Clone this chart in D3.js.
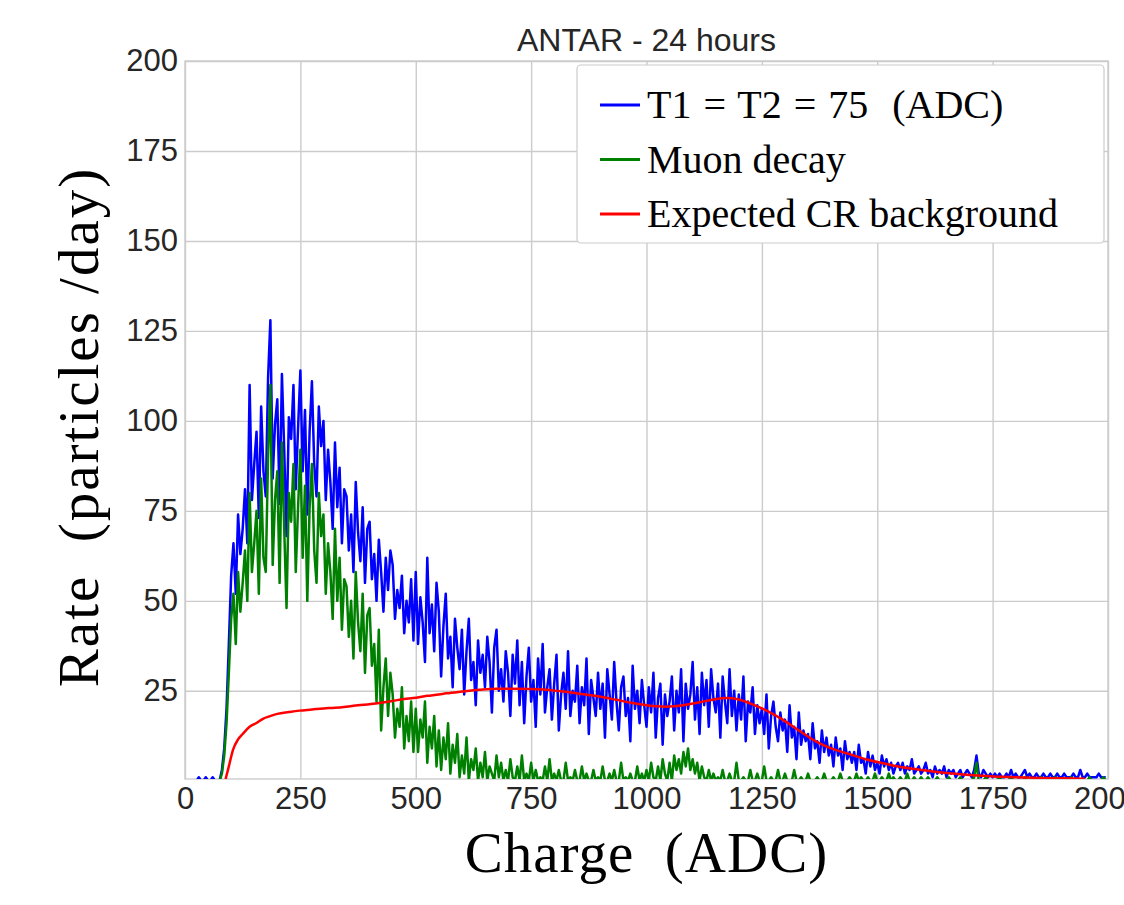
<!DOCTYPE html>
<html>
<head>
<meta charset="utf-8">
<script src="https://cdn.jsdelivr.net/npm/d3@7"></script>
<style>
    body { margin: 0; background: #fff; }
    svg { display: block; }
    .tick text { font-family: "Liberation Sans", Arial, sans-serif; fill: #262626; }
</style>
</head>
<body>
<svg id="chart" width="1124" height="905"></svg>
<script>
"use strict";

/** Histogram bins, 5 ADC wide, starting at 0. */
var binWidth = 5;

var blueRate = [
    0, 0, 0, 0, 0, 0, 1, 0, 0, 1, 0, 0, 1, 0, 0, 0, 3, 9, 20, 38,
    57, 66, 52, 74, 63, 70, 81, 66, 110, 78, 88, 97, 73, 104, 86, 79, 112, 128, 84, 99,
    106, 77, 113, 92, 68, 101, 95, 110, 81, 98, 114, 86, 103, 74, 97, 111, 88, 79, 104, 93,
    100, 78, 92, 83, 70, 94, 76, 87, 66, 81, 79, 64, 74, 58, 83, 69, 61, 76, 55, 70,
    72, 56, 63, 50, 67, 58, 47, 62, 53, 64, 60, 45, 53, 48, 57, 41, 50, 44, 56, 39,
    58, 38, 51, 44, 33, 62, 41, 49, 36, 55, 47, 29, 43, 52, 34, 40, 26, 45, 37, 31,
    42, 24, 36, 45, 28, 33, 21, 39, 30, 35, 26, 40, 33, 19, 37, 42, 25, 31, 22, 36,
    30, 18, 35, 27, 39, 21, 33, 16, 29, 37, 22, 28, 15, 34, 24, 38, 19, 26, 31, 17,
    27, 35, 14, 24, 30, 20, 36, 18, 25, 22, 32, 16, 26, 21, 34, 13, 28, 23, 18, 30,
    20, 27, 12, 31, 24, 17, 33, 22, 14, 26, 29, 18, 23, 11, 32, 20, 25, 16, 28, 21,
    15, 26, 19, 30, 12, 23, 27, 10, 24, 18, 22, 29, 14, 25, 19, 31, 11, 27, 20, 24,
    33, 17, 26, 13, 30, 21, 28, 15, 31, 23, 19, 27, 12, 29, 22, 16, 31, 18, 25, 14,
    24, 17, 29, 11, 22, 19, 26, 13, 21, 16, 20, 13, 24, 9, 18, 22, 15, 11, 19, 14,
    17, 8, 21, 12, 15, 6, 19, 10, 14, 11, 13, 6, 16, 9, 11, 5, 14, 8, 12, 7,
    10, 4, 12, 7, 9, 3, 11, 6, 8, 5, 8, 3, 10, 5, 6, 2, 8, 4, 7, 3,
    5, 2, 7, 4, 6, 3, 5, 2, 4, 5, 3, 5, 2, 4, 3, 6, 2, 3, 4, 2,
    3, 5, 2, 3, 1, 4, 2, 3, 2, 4, 1, 3, 2, 3, 1, 2, 3, 1, 2, 3,
    2, 1, 3, 7, 2, 1, 3, 2, 1, 2, 1, 2, 1, 2, 1, 1, 2, 1, 3, 1,
    2, 1, 1, 2, 3, 1, 2, 1, 1, 2, 1, 1, 2, 1, 1, 2, 1, 1, 2, 1,
    1, 2, 1, 1, 1, 2, 1, 1, 3, 1, 1, 2, 1, 1, 1, 1, 2, 1, 1, 1
];

var greenRate = [
    0, 0, 0, 0, 0, 0, 0, 0, 0, 0, 0, 0, 0, 0, 0, 0, 2, 7, 16, 30,
    45, 52, 38, 58, 47, 55, 64, 50, 80, 58, 66, 75, 52, 84, 62, 58, 90, 110, 60, 78,
    86, 55, 94, 70, 48, 80, 72, 88, 58, 76, 92, 62, 82, 50, 76, 88, 64, 55, 80, 68,
    74, 52, 66, 58, 45, 70, 50, 62, 42, 56, 54, 40, 50, 34, 58, 44, 36, 52, 30, 46,
    48, 32, 38, 22, 42, 14, 26, 34, 18, 30, 24, 12, 20, 15, 26, 9, 18, 11, 22, 8,
    20, 8, 17, 12, 22, 5, 15, 9, 18, 4, 14, 3, 12, 6, 16, 2, 10, 5, 13, 1,
    7, 2, 12, 0, 6, 3, 9, 0, 5, 1, 8, 0, 4, 2, 0, 7, 1, 5, 0, 3,
    0, 6, 1, 0, 4, 0, 7, 0, 2, 0, 5, 0, 3, 0, 1, 0, 4, 0, 6, 0,
    2, 0, 3, 0, 0, 5, 0, 1, 0, 3, 0, 0, 4, 0, 2, 0, 0, 3, 0, 1,
    0, 4, 0, 0, 2, 0, 3, 0, 0, 5, 0, 1, 0, 2, 0, 0, 4, 0, 2, 0,
    3, 0, 5, 1, 0, 4, 0, 6, 2, 0, 5, 0, 7, 3, 6, 2, 8, 4, 9, 3,
    6, 2, 5, 0, 4, 1, 0, 3, 0, 2, 0, 1, 0, 3, 0, 0, 2, 0, 0, 5,
    0, 0, 1, 0, 0, 3, 0, 0, 2, 0, 0, 4, 0, 0, 1, 0, 0, 3, 0, 0,
    2, 0, 0, 0, 3, 0, 0, 1, 0, 0, 2, 0, 0, 0, 1, 0, 0, 2, 0, 0,
    0, 1, 0, 0, 2, 0, 0, 0, 1, 0, 0, 2, 0, 1, 0, 0, 1, 0, 0, 2,
    0, 0, 1, 0, 0, 2, 0, 1, 0, 0, 1, 0, 0, 2, 0, 0, 1, 0, 0, 1,
    0, 0, 1, 0, 0, 0, 1, 0, 0, 0, 0, 1, 0, 0, 0, 0, 1, 0, 0, 0,
    0, 0, 1, 5, 0, 0, 0, 1, 0, 0, 0, 0, 0, 1, 0, 0, 0, 0, 1, 0,
    0, 0, 0, 0, 1, 0, 0, 0, 0, 0, 0, 1, 0, 0, 0, 0, 0, 1, 0, 0,
    0, 0, 0, 0, 1, 0, 0, 0, 0, 0, 0, 0, 1, 0, 0, 0, 0, 0, 1, 0
];

var redCharge = [88, 95, 104, 115, 125, 140, 154, 170, 183, 200, 225, 248, 275, 300, 325, 349,
    375, 400, 421, 450, 475, 494, 525, 550, 566, 600, 638, 675, 710, 750, 783, 820, 855, 898,
    935, 970, 1000, 1043, 1080, 1115, 1145, 1173, 1200, 1223, 1260, 1295, 1330, 1368, 1400,
    1440, 1475, 1512, 1548, 1585, 1620, 1657, 1700, 1730, 1770, 1800, 1850, 1900, 1950];
var redRate = [0.5, 4, 8.6, 11.5, 13, 15, 16, 17.3, 17.9, 18.6, 19.1, 19.5, 19.8, 20.1, 20.3, 20.6,
    21, 21.3, 21.6, 22.2, 22.7, 23, 23.6, 24, 24.3, 24.8, 25.3, 25.6, 25.6, 25.5, 25.3, 24.8, 24.2, 23.4,
    22.5, 21.6, 21, 20.6, 21, 21.8, 22.6, 23, 22.6, 21.6, 19.5, 17, 14, 10.9, 9,
    7.4, 6, 4.9, 3.9, 3.2, 2.6, 2.1, 1.6, 1.4, 1.1, 1, 0.8, 0.7, 0.6];

var xTicks = [0, 250, 500, 750, 1000, 1250, 1500, 1750, 2000];
var yTicks = [25, 50, 75, 100, 125, 150, 175, 200];

var seriesNames = ["T1 = T2 = 75  (ADC)", "Muon decay", "Expected CR background"];
var seriesColors = ["#0000ff", "#008000", "#ff0000"];

var MARGIN = { left: 185, top: 61 };
var WIDTH = 923;
var HEIGHT = 718;
var GRID_COLOR = "#cccccc";
var SERIF = "'Liberation Serif', 'Times New Roman', serif";

var svg = d3.select("#chart");

var x = d3.scaleLinear().domain([0, 2000]).range([0, WIDTH]);
var y = d3.scaleLinear().domain([0.5, 200]).range([HEIGHT, 0]);

var plot = svg.append("g")
    .attr("transform", "translate(" + MARGIN.left + "," + MARGIN.top + ")");

plot.append("clipPath")
    .attr("id", "plot-clip")
    .append("rect")
    .attr("width", WIDTH)
    .attr("height", HEIGHT);

// grid + tick labels
var xAxis = plot.append("g")
    .attr("transform", "translate(0," + HEIGHT + ")")
    .call(d3.axisBottom(x).tickValues(xTicks).tickFormat(d3.format("d"))
        .tickSize(-HEIGHT).tickPadding(8));
var yAxis = plot.append("g")
    .call(d3.axisLeft(y).tickValues(yTicks).tickFormat(d3.format("d"))
        .tickSize(-WIDTH).tickPadding(7));

[xAxis, yAxis].forEach(function(ax) {
    ax.select(".domain").remove();
    ax.selectAll(".tick line")
        .attr("stroke", GRID_COLOR)
        .attr("stroke-width", 1.4);
    ax.selectAll(".tick text")
        .style("font-size", "31px");
});
xAxis.selectAll(".tick text").attr("dy", "0.71em");

plot.append("rect")
    .attr("width", WIDTH)
    .attr("height", HEIGHT)
    .attr("fill", "none")
    .attr("stroke", GRID_COLOR)
    .attr("stroke-width", 1.4);

// series
var charge = blueRate.map(function(d, i) { return i * binWidth; });

var line = d3.line()
    .x(function(d) { return x(d[0]); })
    .y(function(d) { return y(d[1]); });

var lines = plot.append("g").attr("clip-path", "url(#plot-clip)");

var seriesData = [
    d3.zip(charge, blueRate),
    d3.zip(charge, greenRate),
    d3.zip(redCharge, redRate)
];

seriesData.forEach(function(data, i) {
    lines.append("path")
        .datum(data)
        .attr("fill", "none")
        .attr("stroke", seriesColors[i])
        .attr("stroke-width", 2.5)
        .attr("stroke-linejoin", "round")
        .attr("d", i == 2 ? line.curve(d3.curveMonotoneX)(data) : line.curve(d3.curveLinear)(data));
});

// legend
var legend = svg.append("g").attr("class", "legend");
legend.append("rect")
    .attr("x", 577)
    .attr("y", 65)
    .attr("width", 527)
    .attr("height", 178)
    .attr("rx", 4)
    .attr("fill", "#fff")
    .attr("stroke", GRID_COLOR)
    .attr("stroke-width", 1.2);

var rows = legend.selectAll(".row")
    .data(seriesNames)
    .enter().append("g")
    .attr("transform", function(d, i) {
        return "translate(600," + (105 + i * 54.5) + ")";
    });
rows.append("line")
    .attr("x1", 0)
    .attr("x2", 40)
    .attr("stroke", function(d, i) { return seriesColors[i]; })
    .attr("stroke-width", 3);
rows.append("text")
    .attr("x", 47)
    .attr("y", 13)
    .style("font-family", SERIF)
    .style("font-size", "40px")
    .style("white-space", "pre")
    .style("word-spacing", function(d, i) { return i == 0 ? "2px" : "0px"; })
    .attr("fill", "#000")
    .text(function(d) { return d; });

// titles
svg.append("text")
    .attr("x", MARGIN.left + WIDTH / 2)
    .attr("y", 51)
    .attr("text-anchor", "middle")
    .style("font-family", "'Liberation Sans', Arial, sans-serif")
    .style("font-size", "32px")
    .attr("fill", "#262626")
    .text("ANTAR - 24 hours");

svg.append("text")
    .attr("x", MARGIN.left + WIDTH / 2)
    .attr("y", 872)
    .attr("text-anchor", "middle")
    .style("font-family", SERIF)
    .style("font-size", "57px")
    .style("letter-spacing", "1px")
    .style("white-space", "pre")
    .text("Charge  (ADC)");

svg.append("text")
    .attr("transform", "translate(98,427) rotate(-90)")
    .attr("text-anchor", "middle")
    .style("font-family", SERIF)
    .style("font-size", "57px")
    .style("letter-spacing", "2px")
    .style("white-space", "pre")
    .text("Rate  (particles /day)");
</script>
</body>
</html>
